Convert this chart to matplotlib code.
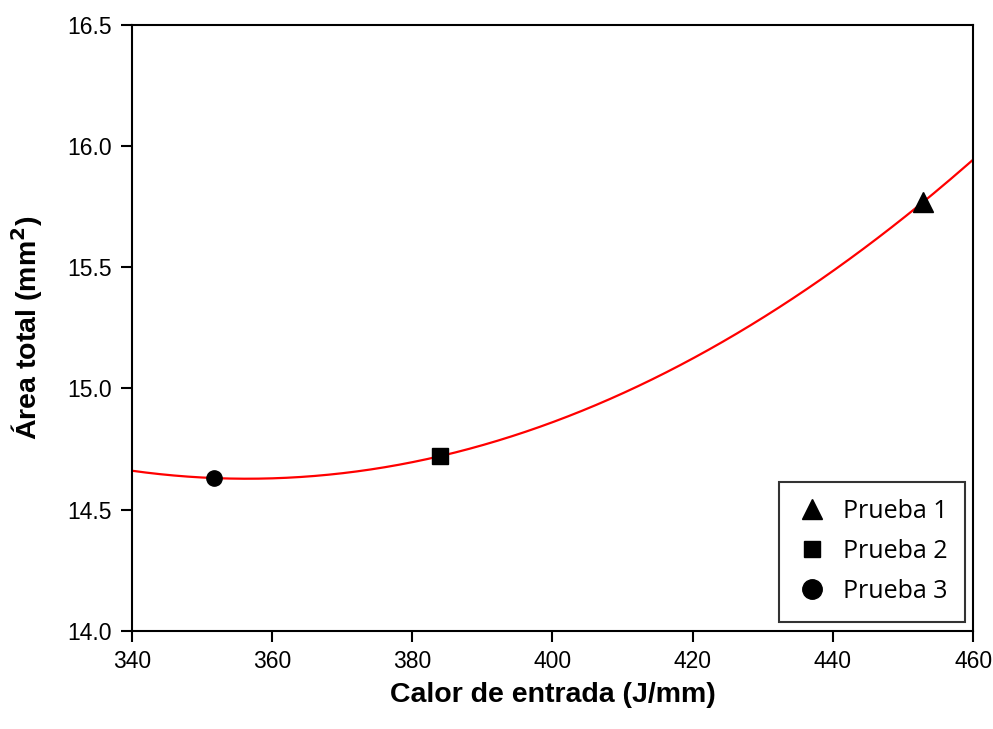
import numpy as np
import matplotlib
matplotlib.use('Agg')
import matplotlib.pyplot as plt

# measured points (heat input J/mm, total area mm2)
calor = [452.9, 383.9, 351.8]
area = [15.77, 14.72, 14.63]
etiquetas = ['Prueba 1', 'Prueba 2', 'Prueba 3']

xticks = [340, 360, 380, 400, 420, 440, 460]
yticks = [14.0, 14.5, 15.0, 15.5, 16.0, 16.5]

# marker style per test
marcadores = ['^', 's', 'o']
tam = [15, 11.5, 11]
tam_leg = [15, 12, 14]

plt.rcParams['font.family'] = ['Liberation Sans', 'DejaVu Sans']

fig = plt.figure(figsize=(9.93, 7.29), dpi=100)
ax = fig.add_axes([0.1326, 0.1348, 0.8474, 0.8309])

# 2nd order regression through the points
coef = np.polyfit(calor, area, 2)
xs = np.linspace(340, 460, 300)
ax.plot(xs, np.polyval(coef, xs), color='red', lw=1.6, zorder=2)

for x, y, lab, m, s in zip(calor, area, etiquetas, marcadores, tam):
    ax.plot(x, y, marker=m, color='black', ms=s, ls='none', label=lab, zorder=3)

ax.set_xlim(340, 460)
ax.set_ylim(14.0, 16.5)
ax.set_xticks(xticks)
ax.set_yticks(yticks)
ax.set_yticklabels([f'{v:.1f}' for v in yticks])
ax.tick_params(direction='out', length=8, width=1.5, labelsize=16.5, pad=6)
for s in ax.spines.values():
    s.set_linewidth(1.5)

ax.set_xlabel('Calor de entrada (J/mm)', fontsize=20.5, fontweight='bold', labelpad=6)
ax.set_ylabel('Área total (mm$^\\mathbf{2}$)', fontsize=20.5, fontweight='bold', labelpad=16)

leg = ax.legend(loc='lower right', bbox_to_anchor=(0.9905, 0.015), borderaxespad=0,
                frameon=True, fancybox=False, edgecolor='black',
                prop={'family': 'Open Sans', 'size': 18},
                handletextpad=0.65, borderpad=0.7, labelspacing=0.6, handlelength=1.2)
leg.get_frame().set_linewidth(1.5)
for h, s in zip(leg.legend_handles, tam_leg):
    h.set_markersize(s)

fig.savefig('out.png', dpi=100)
